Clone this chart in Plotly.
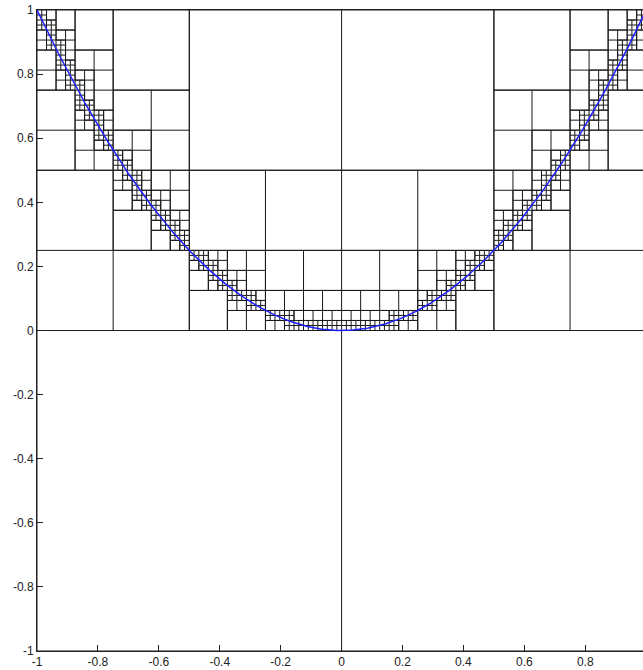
import numpy as np
import plotly.graph_objects as go

# domain and refinement settings
x_domain = [-1.0, 1.0]
y_domain = [-1.0, 1.0]
max_depth = 7
x_ticks = [-1, -0.8, -0.6, -0.4, -0.2, 0, 0.2, 0.4, 0.6, 0.8, 1]
x_tick_labels = ["-1", "-0.8", "-0.6", "-0.4", "-0.2", "0", "0.2", "0.4", "0.6", "0.8", "1"]
y_ticks = [-1, -0.8, -0.6, -0.4, -0.2, 0, 0.2, 0.4, 0.6, 0.8, 1]
y_tick_labels = ["-1", "-0.8", "-0.6", "-0.4", "-0.2", "0", "0.2", "0.4", "0.6", "0.8", "1"]


def curve(x):
    return x ** 2


def intersects(x0, x1, y0, y1):
    m = 0.0 if x0 < 0 < x1 else min(x0 ** 2, x1 ** 2)
    M = max(x0 ** 2, x1 ** 2)
    return m < y1 and M > y0


leaves = []


def refine(x0, x1, y0, y1, d):
    if d < max_depth and intersects(x0, x1, y0, y1):
        xm = (x0 + x1) / 2
        ym = (y0 + y1) / 2
        refine(x0, xm, y0, ym, d + 1)
        refine(xm, x1, y0, ym, d + 1)
        refine(x0, xm, ym, y1, d + 1)
        refine(xm, x1, ym, y1, d + 1)
    else:
        leaves.append((x0, x1, y0, y1))


refine(x_domain[0], x_domain[1], y_domain[0], y_domain[1], 0)

# collect unique edges
edges = set()
for x0, x1, y0, y1 in leaves:
    edges.add((x0, y0, x1, y0))
    edges.add((x0, y1, x1, y1))
    edges.add((x0, y0, x0, y1))
    edges.add((x1, y0, x1, y1))

ex, ey = [], []
for a, b, c, d in edges:
    ex += [a, c, None]
    ey += [b, d, None]

xs = np.linspace(-1, 1, 801)
ys = curve(xs)

fig = go.Figure()
fig.add_trace(go.Scatter(x=ex, y=ey, mode="lines",
                         line=dict(color="#1a1a1a", width=1),
                         hoverinfo="skip", showlegend=False))
fig.add_trace(go.Scatter(x=xs, y=ys, mode="lines",
                         line=dict(color="#1f1fff", width=1.5),
                         showlegend=False))

plot_w = 643 - 37
x_right = -1 + plot_w / 304.6

fig.update_layout(
    width=643, height=670,
    margin=dict(l=37, r=0, t=10, b=19, autoexpand=False),
    paper_bgcolor="white", plot_bgcolor="white",
    font=dict(family="Liberation Sans, Arial, sans-serif", size=12, color="#222"),
)
fig.update_xaxes(range=[-1, x_right], tickvals=x_ticks, ticktext=x_tick_labels,
                 ticks="inside", ticklen=6, tickcolor="#222", showgrid=False,
                 zeroline=False, showline=True, linecolor="#222", linewidth=1,
                 mirror=True, automargin=False)
fig.update_yaxes(range=[-1, 1], tickvals=y_ticks, ticktext=y_tick_labels,
                 ticks="inside", ticklen=6, tickcolor="#222", showgrid=False,
                 zeroline=False, showline=True, linecolor="#222", linewidth=1,
                 mirror=False, automargin=False)

fig.write_html("out.html", config={"displayModeBar": False},
               post_script="document.body.style.margin='0';document.body.style.overflow='hidden';")
